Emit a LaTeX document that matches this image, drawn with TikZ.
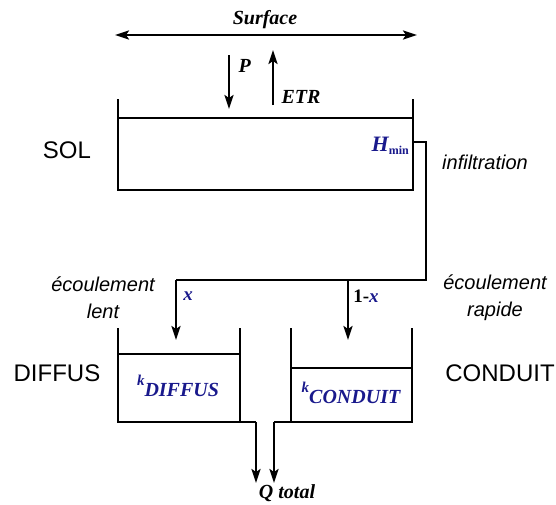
\documentclass[tikz,border=0pt]{standalone}
\usepackage{fontspec}
\setmainfont{Liberation Serif}
\setsansfont{Liberation Sans}
\usetikzlibrary{arrows.meta}
\definecolor{kblue}{RGB}{25,25,140}
\begin{document}
\begin{tikzpicture}[x=1pt,y=-1pt,
  line/.style={line width=2.3pt},
  tip/.style={-{Stealth[length=14pt,width=9pt,inset=3pt]}},
  arr/.style={line width=2.3pt,tip},
  serifbi/.style={font=\fontsize{20}{24}\selectfont\bfseries\itshape},
  sanslab/.style={font=\fontsize{24}{28}\selectfont\sffamily},
  sansit/.style={font=\fontsize{20}{27}\selectfont\sffamily\itshape, align=center},
  kbox/.style={font=\fontsize{20}{24}\selectfont\bfseries\itshape, text=kblue},
]
\useasboundingbox (0,0) rectangle (556,504);

% surface
\coordinate (sl) at (115,35);
\coordinate (sr) at (417,35);
\draw[line,{Stealth[length=14pt,width=9pt,inset=3pt]}-{Stealth[length=14pt,width=9pt,inset=3pt]}] (sl) -- (sr);
\node[serifbi] (surf) at (265,20) {Surface};

% P and ETR
\coordinate (p1) at (229,55);
\coordinate (p2) at (229,109);
\draw[arr] (p1) -- (p2);
\node[serifbi, anchor=west] (plab) at (235,66) {P};
\coordinate (e1) at (273,105);
\coordinate (e2) at (273,50);
\draw[arr] (e1) -- (e2);
\node[serifbi, anchor=west] (elab) at (278,97) {ETR};

% SOL tank
\coordinate (solTL) at (118,99);
\coordinate (solBL) at (118,190);
\coordinate (solBR) at (413,190);
\coordinate (solTR) at (413,99);
\draw[line] (solTL) -- (solBL) -- (solBR) -- (solTR);
\draw[line] (118,118) -- (413,118);
\node[sanslab] (sol) at (67,150) {SOL};
\node[anchor=east, text=kblue, inner sep=0pt] (hmin) at (409,146)
  {\fontsize{22}{24}\selectfont\bfseries\itshape H\raisebox{-3pt}{\fontsize{12}{12}\selectfont\upshape min}};

% infiltration pipe
\coordinate (out) at (413,142);
\coordinate (c1) at (426,142);
\coordinate (c2) at (426,280);
\coordinate (jr) at (348,280);
\coordinate (jl) at (176,280);
\coordinate (tl) at (176,340);
\coordinate (tr) at (348,340);
\draw[line] (out) -- (c1) -- (c2) -- (jl);
\draw[arr] (jl) -- (tl);
\draw[arr] (jr) -- (tr);
\node[sansit] (infil) at (485,162) {infiltration};
\node[font=\fontsize{19}{22}\selectfont\bfseries\itshape, text=kblue] (xl) at (188,296) {x};
\node[font=\fontsize{19}{22}\selectfont\bfseries] (xr) at (366,296) {1-\textcolor{kblue}{\itshape x}};
\node[sansit] (lent) at (103,298) {écoulement\\lent};
\node[sansit] (rapide) at (495,298) {écoulement\\rapide};

% DIFFUS tank
\draw[line] (118,328) -- (118,422) -- (240,422) -- (240,328);
\draw[line] (118,354) -- (240,354);
\node[sanslab] (diffus) at (57,373) {DIFFUS};
\node[kbox] (kd) at (178,386) {\raisebox{11pt}{\fontsize{15}{15}\selectfont k}DIFFUS};

% CONDUIT tank
\draw[line] (291,328) -- (291,422) -- (412,422) -- (412,328);
\draw[line] (291,368) -- (412,368);
\node[sanslab] (conduit) at (500,373) {CONDUIT};
\node[kbox] (kc) at (351,393) {\raisebox{11pt}{\fontsize{15}{15}\selectfont k}CONDUIT};

% outlets
\coordinate (dl) at (240,422);
\coordinate (dl2) at (256,422);
\coordinate (dl3) at (256,483);
\coordinate (cr) at (291,422);
\coordinate (cr2) at (274,422);
\coordinate (cr3) at (274,483);
\draw[line] (dl) -- (dl2);
\draw[arr] (dl2) -- (dl3);
\draw[line] (cr) -- (cr2);
\draw[arr] (cr2) -- (cr3);
\node[serifbi] (q) at (287,493) {Q total};
\end{tikzpicture}
\end{document}
